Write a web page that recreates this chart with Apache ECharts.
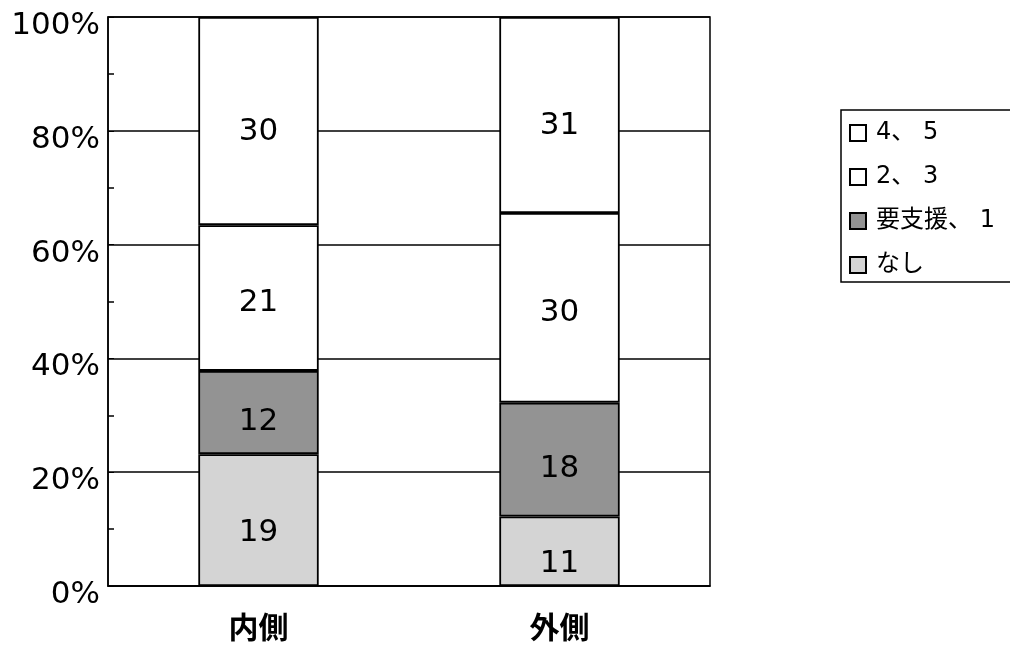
<!DOCTYPE html>
<html>
<head>
<meta charset="utf-8">
<script src="https://cdn.jsdelivr.net/npm/echarts@6/dist/echarts.min.js"></script>
<style>
  html, body { margin: 0; padding: 0; background: #fff; }
  #chart { width: 1010px; height: 646px; }
</style>
</head>
<body>
<div id="chart"></div>
<script>
// categories and counts per group (bottom to top of the stack)
const categories = ['内側', '外側'];
const seriesNames = ['なし', '要支援、 1', '2、 3', '4、 5'];
const counts = [
    [19, 11],   // なし
    [12, 18],   // 要支援、1
    [21, 30],   // 2、3
    [30, 31],   // 4、5
];
const yTicks = [0, 20, 40, 60, 80, 100];

const colors = ['#d4d4d4', '#939393', '#ffffff', '#ffffff'];
const labelShift = [13, 9, 5, 11];

const totals = categories.map((c, i) => counts.reduce((s, row) => s + row[i], 0));

const chart = echarts.init(document.getElementById('chart'));
const font = '"DejaVu Sans", "Noto Sans CJK JP", sans-serif';

chart.setOption({
    animation: false,
    textStyle: { fontFamily: font, color: '#000' },
    grid: { left: 108, right: 300, top: 17, bottom: 60, show: true, borderColor: '#000', borderWidth: 1.5 },
    legend: {
        orient: 'vertical',
        left: 841,
        top: 110,
        data: seriesNames.slice().reverse(),
        icon: 'rect',
        itemWidth: 16,
        itemHeight: 16,
        itemGap: 20,
        borderColor: '#000',
        borderWidth: 1.5,
        borderRadius: 0,
        padding: [11, 200, 5, 8],
        textStyle: { fontSize: 24, color: '#000', fontFamily: font, padding: [0, 0, 0, 5] },
    },
    xAxis: {
        type: 'category',
        data: categories,
        axisLine: { lineStyle: { color: '#000', width: 1.5 } },
        axisTick: { inside: true, length: 5, lineStyle: { color: '#000' } },
        axisLabel: { fontSize: 30, color: '#000', margin: 26, fontWeight: 'bold',
            fontFamily: '"Noto Sans CJK JP", sans-serif' },
        splitLine: { show: false },
    },
    yAxis: {
        type: 'value',
        min: yTicks[0],
        max: yTicks[yTicks.length - 1],
        interval: 20,
        axisLine: { show: true, lineStyle: { color: '#000', width: 1.5 } },
        axisTick: { show: true, inside: true, length: 6, lineStyle: { color: '#000' } },
        minorTick: { show: true, splitNumber: 2, length: 6, lineStyle: { color: '#000', width: 1.5 } },
        axisLabel: { fontSize: 31, color: '#000', margin: 8, verticalAlign: 'top', lineHeight: 18,
            formatter: '{value}%' },
        splitLine: { lineStyle: { color: '#000', width: 1.5 } },
    },
    series: seriesNames.map((name, s) => ({
        name: name,
        type: 'bar',
        stack: 'total',
        barCategoryGap: '60%',
        itemStyle: { color: colors[s], borderColor: '#000', borderWidth: 1.8 },
        label: {
            show: true,
            position: 'inside',
            offset: [0, labelShift[s]],
            fontSize: 31,
            color: '#000',
            formatter: p => counts[s][p.dataIndex],
        },
        data: counts[s].map((v, i) => v / totals[i] * 100),
    })),
});
</script>
</body>
</html>
